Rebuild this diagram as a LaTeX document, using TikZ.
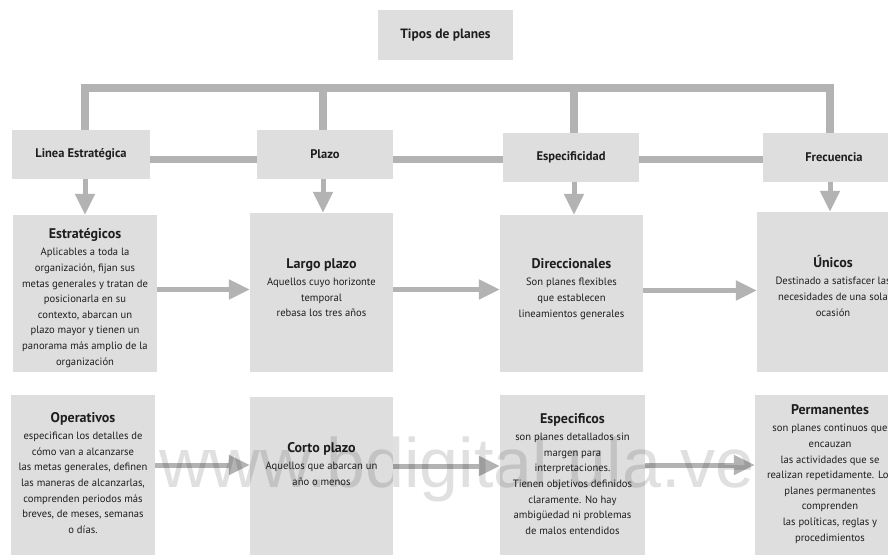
\documentclass[tikz,border=0pt]{standalone}
\usepackage{fontspec}
\setmainfont{PT Sans}
\newfontfamily\wmfont{Liberation Sans}
\usetikzlibrary{arrows.meta}
\definecolor{boxgray}{HTML}{DEDEDE}
\definecolor{linkgray}{HTML}{B3B3B3}
\definecolor{inkgray}{HTML}{1E1E1E}
\tikzset{
  card/.style={fill=boxgray, inner sep=0pt},
  head/.style={card, minimum height=49pt, text=inkgray, font=\bfseries\fontsize{12.5}{14}\selectfont},
  desc/.style={align=center, inner sep=0pt, text=inkgray, font=\fontsize{10.6}{15.6}\selectfont},
  trunk/.style={linkgray, line width=7.5pt},
  link/.style={linkgray, line width=7pt},
  flow/.style={linkgray, line width=5pt, -{Triangle[length=21pt,width=19pt]}},
}
\newcommand{\ttl}[1]{{\fontsize{14}{16}\selectfont\bfseries #1}\\[1.5pt]}

\begin{document}
\begin{tikzpicture}[x=1pt,y=-1pt]
        \clip (0,0) rectangle (888,554);
        \fill[white] (0,0) rectangle (888,554);

        % title
        \node[head, minimum width=135pt, minimum height=50pt, font=\bfseries\fontsize{13.5}{15}\selectfont] (tipos) at (445.5,35) {Tipos de planes};

        % headers
        \node[head, minimum width=138pt] (h1) at (81,154.5) {Linea Estratégica};
        \node[head, minimum width=136pt] (h2) at (325,154.5) {Plazo};
        \node[head, minimum width=136pt] (h3) at (571,157.5) {Especificidad};
        \node[head, minimum width=142pt] (h4) at (834,157.5) {Frecuencia};

        % second row
        \node[card, minimum width=144pt, minimum height=157pt] (s1) at (85,293.5) {};
        \node[card, minimum width=143pt, minimum height=159pt] (s2) at (321.5,292.5) {};
        \node[card, minimum width=143pt, minimum height=157pt] (s3) at (571.5,293.5) {};
        \node[card, minimum width=152pt, minimum height=160pt] (s4) at (833,292) {};

        % third row
        \node[card, minimum width=144pt, minimum height=160pt] (o1) at (83,475) {};
        \node[card, minimum width=143pt, minimum height=158pt] (o2) at (321.5,476) {};
        \node[card, minimum width=145pt, minimum height=160pt] (o3) at (572.5,475) {};
        \node[card, minimum width=156pt, minimum height=160pt] (o4) at (833,475) {};

        % texts
        \node[desc] (s1t) at (85,298) {\ttl{Estratégicos}Aplicables a toda la\\organización, fijan sus\\metas generales y tratan de\\posicionarla en su\\contexto, abarcan un\\plazo mayor y tienen un\\panorama más amplio de la\\organización};
        \node[desc] (s2t) at (321.5,288) {\ttl{Largo plazo}Aquellos cuyo horizonte\\temporal\\rebasa los tres años};
        \node[desc] (s3t) at (571.5,289) {\ttl{Direccionales}Son planes flexibles\\que establecen\\lineamientos generales};
        \node[desc] (s4t) at (833,286) {\ttl{Únicos}Destinado a satisfacer las\\necesidades de una sola\\ocasión};
        \node[desc] (o1t) at (83,473) {\ttl{Operativos}especifican los detalles de\\cómo van a alcanzarse\\las metas generales, definen\\las maneras de alcanzarlas,\\comprenden periodos más\\breves, de meses, semanas\\o días.};
        \node[desc] (o2t) at (321.5,464) {\ttl{Corto plazo}Aquellos que abarcan un\\año o menos};
        \node[desc] (o3t) at (572.5,474) {\ttl{Especificos}son planes detallados sin\\margen para\\interpretaciones.\\Tienen objetivos definidos\\claramente. No hay\\ambigüedad ni problemas\\de malos entendidos};
        \node[desc] (o4t) at (830,474) {\ttl{Permanentes}son planes continuos que\\encauzan\\las actividades que se\\realizan repetidamente. Los\\planes permanentes\\comprenden\\las políticas, reglas y\\procedimientos};

        % top bar
        \coordinate (t1) at (85,88);
        \coordinate (t2) at (323,88);
        \coordinate (t3) at (574,88);
        \coordinate (t4) at (830,88);
        \draw[trunk] (t1 |- h1.north) -- (t1) -- (t4) -- (t4 |- h4.north);
        \draw[trunk] (t2) -- (t2 |- h2.north);
        \draw[trunk] (t3) -- (t3 |- h3.north);

        % links between headers
        \draw[link] ([yshift=-5pt]h1.east) -- ([yshift=-5pt]h2.west);
        \draw[link] ([yshift=-5pt]h2.east) -- ([yshift=-2pt]h3.west);
        \draw[link] ([yshift=-2pt]h3.east) -- ([yshift=-2pt]h4.west);

        % down arrows
        \draw[flow] (t1 |- h1.south) -- (t1 |- s1.north);
        \draw[flow] (t2 |- h2.south) -- (t2 |- s2.north);
        \draw[flow] (t3 |- h3.south) -- (t3 |- s3.north);
        \draw[flow] (t4 |- h4.south) -- (t4 |- s4.north);

        % row arrows
        \draw[flow] ([yshift=4pt]s1.east) -- ([yshift=4pt]s1.east -| s2.west);
        \draw[flow] ([yshift=3pt]s2.east) -- ([yshift=3pt]s2.east -| s3.west);
        \draw[flow] ([yshift=3pt]s3.east) -- ([yshift=3pt]s3.east -| s4.west);
        \draw[flow] ([yshift=10pt]o1.east) -- ([yshift=10pt]o1.east -| o2.west);
        \draw[flow] ([yshift=10pt]o2.east) -- ([yshift=10pt]o2.east -| o3.west);
        \draw[flow] ([yshift=10pt]o3.east) -- ([yshift=10pt]o3.east -| o4.west);

        % watermark
        \node[anchor=base, inner sep=0pt, text=black, text opacity=0.12, font=\wmfont\fontsize{70}{70}\selectfont] (mark) at (457,487) {www.bdigital.ula.ve};
\end{tikzpicture}
\end{document}
